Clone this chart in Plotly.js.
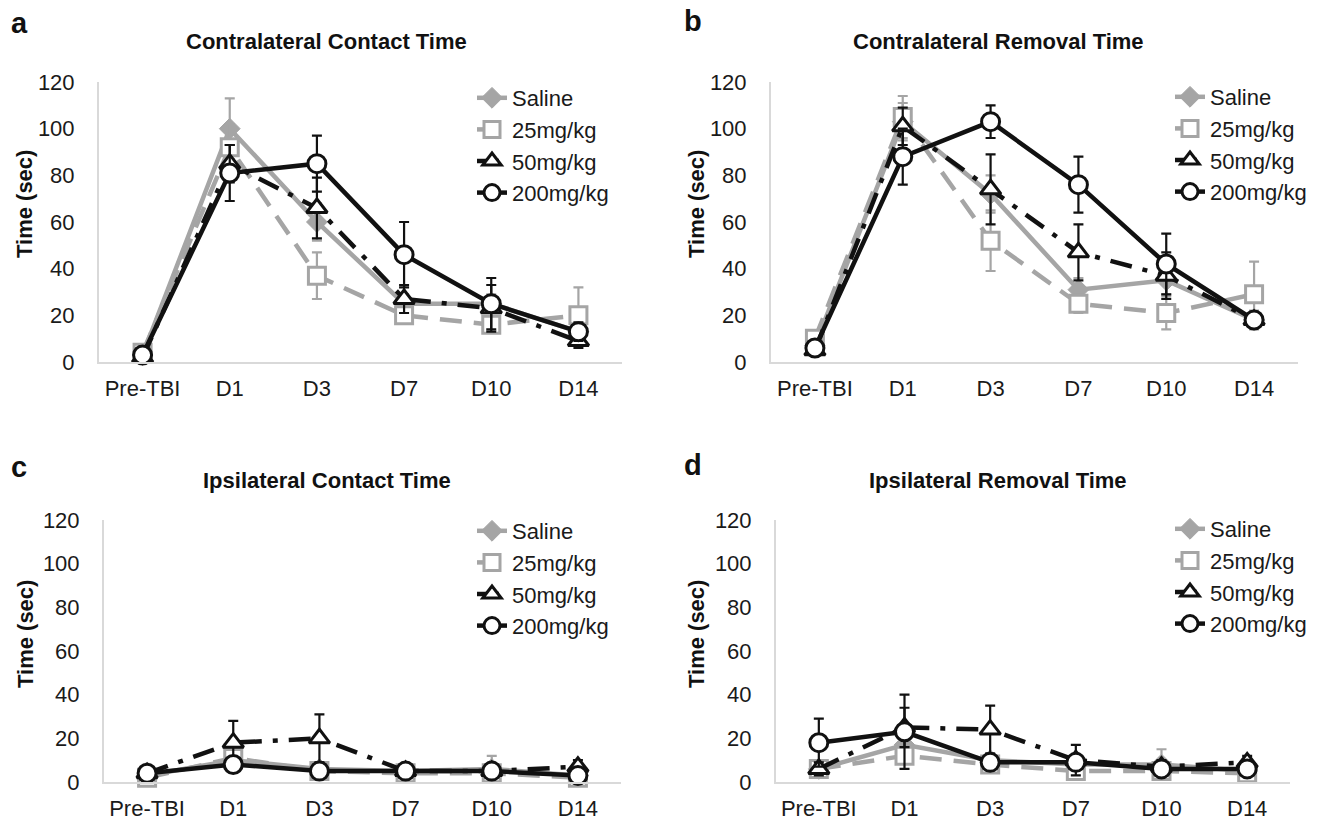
<!DOCTYPE html>
<html>
<head>
<meta charset="utf-8">
<script src="https://cdn.plot.ly/plotly-3.0.1.min.js"></script>
<style>
  html, body { margin: 0; padding: 0; background: #ffffff; }
  #chart { width: 1332px; height: 825px; }
</style>
</head>
<body>
<div id="chart"></div>
<script>
// ---- data ----
const categories = ["Pre-TBI", "D1", "D3", "D7", "D10", "D14"];
const seriesNames = ["Saline", "25mg/kg", "50mg/kg", "200mg/kg"];
const panelTitles = ["Contralateral Contact Time", "Contralateral Removal Time", "Ipsilateral Contact Time", "Ipsilateral Removal Time"];
const panelLetters = ["a", "b", "c", "d"];
const yTickVals = [0, 20, 40, 60, 80, 100, 120];

// a: Contralateral Contact Time
const contraContactSaline = [3, 100, 60, 25, 25, 13];
const contraContactSalineErr = [3, 13, 8, 4, 4, 4];
const contraContact25 = [4, 92, 37, 20, 16, 20];
const contraContact25Err = [3, 10, 10, 3, 3, 12];
const contraContact50 = [2, 85, 66, 27, 23, 9];
const contraContact50Err = [2, 8, 13, 6, 10, 3];
const contraContact200 = [3, 81, 85, 46, 25, 13];
const contraContact200Err = [2, 12, 12, 14, 11, 4];

// b: Contralateral Removal Time
const contraRemovalSaline = [7, 103, 72, 31, 35, 18];
const contraRemovalSalineErr = [3, 8, 8, 5, 6, 4];
const contraRemoval25 = [10, 105, 52, 25, 21, 29];
const contraRemoval25Err = [3, 9, 13, 4, 7, 14];
const contraRemoval50 = [5, 101, 74, 47, 37, 18];
const contraRemoval50Err = [2, 8, 15, 12, 10, 3];
const contraRemoval200 = [6, 88, 103, 76, 42, 18];
const contraRemoval200Err = [2, 12, 7, 12, 13, 3];

// c: Ipsilateral Contact Time
const ipsiContactSaline = [3, 10, 6, 5, 6, 3];
const ipsiContactSalineErr = [1, 3, 2, 1, 6, 2];
const ipsiContact25 = [2, 11, 5, 4, 4, 2];
const ipsiContact25Err = [1, 4, 2, 1, 2, 1];
const ipsiContact50 = [4, 18, 20, 5, 5, 7];
const ipsiContact50Err = [2, 10, 11, 2, 2, 3];
const ipsiContact200 = [4, 8, 5, 5, 5, 3];
const ipsiContact200Err = [1, 3, 2, 1, 2, 1];

// d: Ipsilateral Removal Time
const ipsiRemovalSaline = [6, 17, 10, 8, 8, 5];
const ipsiRemovalSalineErr = [2, 4, 3, 2, 7, 2];
const ipsiRemoval25 = [6, 12, 8, 5, 5, 4];
const ipsiRemoval25Err = [2, 3, 3, 3, 3, 3];
const ipsiRemoval50 = [6, 25, 24, 10, 7, 9];
const ipsiRemoval50Err = [3, 9, 11, 7, 3, 3];
const ipsiRemoval200 = [18, 23, 9, 9, 6, 6];
const ipsiRemoval200Err = [11, 17, 3, 3, 3, 2];

const panels = [
  [[contraContactSaline, contraContactSalineErr], [contraContact25, contraContact25Err], [contraContact50, contraContact50Err], [contraContact200, contraContact200Err]],
  [[contraRemovalSaline, contraRemovalSalineErr], [contraRemoval25, contraRemoval25Err], [contraRemoval50, contraRemoval50Err], [contraRemoval200, contraRemoval200Err]],
  [[ipsiContactSaline, ipsiContactSalineErr], [ipsiContact25, ipsiContact25Err], [ipsiContact50, ipsiContact50Err], [ipsiContact200, ipsiContact200Err]],
  [[ipsiRemovalSaline, ipsiRemovalSalineErr], [ipsiRemoval25, ipsiRemoval25Err], [ipsiRemoval50, ipsiRemoval50Err], [ipsiRemoval200, ipsiRemoval200Err]]
];

// ---- styles ----
const GRAY = "#a5a5a5";
const BLACK = "#111111";
const FONT = "Liberation Sans, Arial, sans-serif";
const styles = [
  { color: GRAY, dash: "solid", symbol: "diamond", size: 16, fill: GRAY, lw: 1 },
  { color: GRAY, dash: "22px,12px", symbol: "square", size: 17, fill: "#ffffff", lw: 3 },
  { color: BLACK, dash: "22px,11px,5px,11px", symbol: "triangle-up", size: 18, fill: "#ffffff", lw: 3 },
  { color: BLACK, dash: "solid", symbol: "circle", size: 18, fill: "#ffffff", lw: 3 }
];

const W = 1332, H = 825;
// pixel geometry of each plot area [x0, x1, yTop, yBottom]
const geom = [
  [99, 622, 82, 362],
  [771, 1298, 82, 362],
  [104, 621, 520, 782],
  [776, 1290, 520, 782]
];
const titlePos = [[326, 42], [998, 42], [327, 480], [998, 480]];
const letterPos = [[19, 23], [693, 21], [19, 467], [693, 465]];
const yTitlePos = [[24, 204], [696, 204], [25, 634], [696, 634]];
const legendPos = [[472, 77], [1170, 76], [472, 510], [1170, 508]];

const traces = [];
const layout = {
  width: W, height: H,
  margin: { l: 0, r: 0, t: 0, b: 0 },
  paper_bgcolor: "#ffffff",
  plot_bgcolor: "#ffffff",
  font: { family: FONT, size: 22, color: "#1a1a1a" },
  annotations: [],
  showlegend: true
};

panels.forEach((panel, p) => {
  const n = p + 1;
  const xa = n === 1 ? "x" : "x" + n;
  const ya = n === 1 ? "y" : "y" + n;
  const lg = n === 1 ? "legend" : "legend" + n;
  panel.forEach((pair, s) => {
    const st = styles[s];
    traces.push({
      type: "scatter",
      mode: "lines+markers",
      x: categories,
      y: pair[0],
      name: seriesNames[s],
      xaxis: xa, yaxis: ya, legend: lg,
      line: { color: st.color, width: 4.5, dash: st.dash },
      marker: { symbol: st.symbol, size: st.size, color: st.fill, line: { color: st.color, width: st.lw } },
      error_y: { type: "data", array: pair[1], visible: true, color: st.color, thickness: 2.2, width: 5 },
      cliponaxis: false,
      hoverinfo: "x+y+name"
    });
  });
  const g = geom[p];
  const xKey = n === 1 ? "xaxis" : "xaxis" + n;
  const yKey = n === 1 ? "yaxis" : "yaxis" + n;
  layout[xKey] = {
    domain: [g[0] / W, g[1] / W],
    anchor: ya,
    type: "category",
    categoryorder: "array", categoryarray: categories,
    range: [-0.5, 5.5],
    showgrid: false, zeroline: false,
    showline: true, linecolor: "#d9d9d9", linewidth: 2,
    ticks: "",
    ticklabelstandoff: 6,
    tickfont: { family: FONT, size: 22, color: "#1a1a1a" },
    fixedrange: true
  };
  layout[yKey] = {
    domain: [1 - g[3] / H, 1 - g[2] / H],
    anchor: xa,
    range: [0, 120],
    tickvals: yTickVals,
    ticktext: yTickVals.map(String),
    showgrid: false, zeroline: false,
    showline: true, linecolor: "#d9d9d9", linewidth: 2,
    ticks: "",
    ticklabelstandoff: 18,
    tickfont: { family: FONT, size: 22, color: "#1a1a1a" },
    fixedrange: true
  };
  layout[lg] = {
    x: legendPos[p][0] / W, y: 1 - legendPos[p][1] / H,
    xref: "paper", yref: "paper",
    xanchor: "left", yanchor: "top",
    bgcolor: "rgba(0,0,0,0)",
    font: { family: FONT, size: 22, color: "#1a1a1a" },
    tracegroupgap: 0
  };
  layout.annotations.push({
    text: panelTitles[p], xref: "paper", yref: "paper",
    x: titlePos[p][0] / W, y: 1 - titlePos[p][1] / H,
    xanchor: "center", yanchor: "middle", showarrow: false,
    font: { family: FONT, size: 22, weight: "bold", color: "#111111" }
  });
  layout.annotations.push({
    text: panelLetters[p], xref: "paper", yref: "paper",
    x: letterPos[p][0] / W, y: 1 - letterPos[p][1] / H,
    xanchor: "center", yanchor: "middle", showarrow: false,
    font: { family: FONT, size: 29, weight: "bold", color: "#111111" }
  });
  layout.annotations.push({
    text: "Time (sec)", xref: "paper", yref: "paper",
    x: yTitlePos[p][0] / W, y: 1 - yTitlePos[p][1] / H,
    xanchor: "center", yanchor: "middle", textangle: -90, showarrow: false,
    font: { family: FONT, size: 22, weight: "bold", color: "#111111" }
  });
});

Plotly.newPlot("chart", traces, layout, { displayModeBar: false, staticPlot: true });
</script>
</body>
</html>
